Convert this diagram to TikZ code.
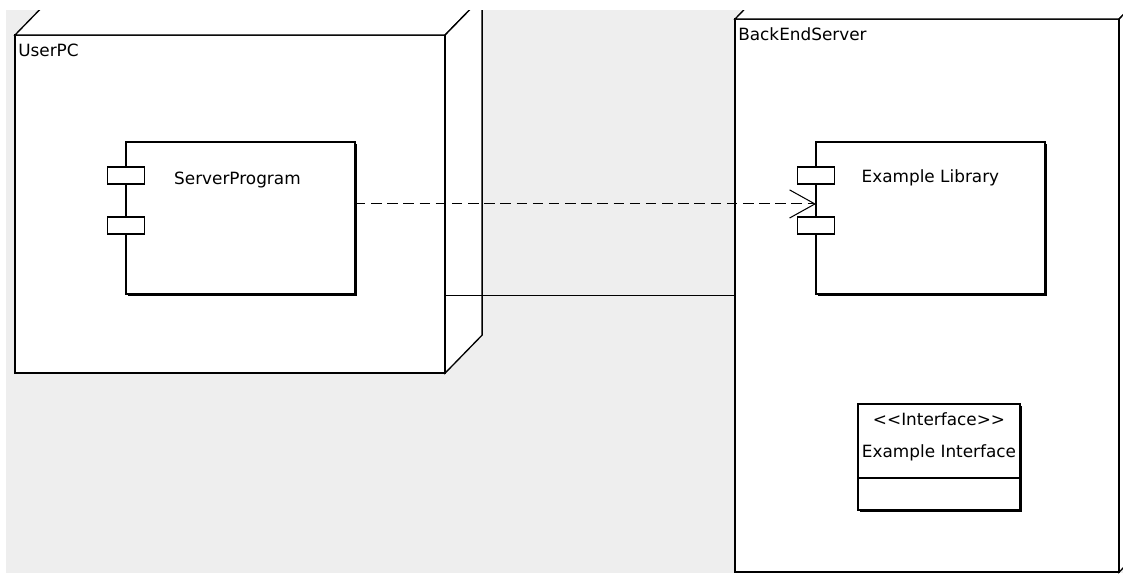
\documentclass[tikz,border=0pt]{standalone}
\usepackage{fontspec}
\setmainfont{DejaVu Sans}
\usepackage{xcolor}
\usetikzlibrary{arrows.meta, positioning, calc, shadows}
\definecolor{canvas}{HTML}{EEEEEE}

\begin{document}
\begin{tikzpicture}[x=0.025cm, y=-0.025cm, font=\fontsize{12}{14}\selectfont,
  box/.style={draw, line width=0.95pt, fill=white, inner sep=0pt, outer sep=0pt, anchor=north west},
  face/.style={draw, line width=0.95pt, fill=white},
  comp/.style={box, minimum width=5.72cm, minimum height=3.8cm,
    drop shadow={shadow xshift=1.5pt, shadow yshift=-1.5pt, fill=black, opacity=1}},
  port/.style={draw, line width=0.95pt, fill=white, inner sep=0pt, outer sep=0pt,
    minimum width=0.925cm, minimum height=0.425cm},
  dep/.style={dash pattern=on 7.5pt off 4pt, line width=0.75pt,
    -{Straight Barb[length=18pt, width=20pt]}},
  lbl/.style={inner sep=0pt, anchor=north west}]
\useasboundingbox (0,0) rectangle (1123,574);
% Canvas
\fill[canvas] (6,10) rectangle (1123,573);
\begin{scope}
\clip (6,10) rectangle (1123,573);
% Nodes (deployment boxes)
\node[box, minimum width=9.6cm, minimum height=13.825cm] (backend) at (735,19) {};
\draw[face] (backend.north west) -- ++(37,-38) -- ($(backend.north east)+(37,-38)$) -- (backend.north east) -- cycle;
\draw[face] (backend.north east) -- ++(37,-38) -- ($(backend.south east)+(37,-38)$) -- (backend.south east) -- cycle;
\node[lbl] (backendlbl) at ($(backend.north west)+(3,8)$) {BackEndServer};
\node[box, minimum width=10.75cm, minimum height=8.45cm] (userpc) at (15,35) {};
\draw[face] (userpc.north west) -- ++(37,-38) -- ($(userpc.north east)+(37,-38)$) -- (userpc.north east) -- cycle;
\draw[face] (userpc.north east) -- ++(37,-38) -- ($(userpc.south east)+(37,-38)$) -- (userpc.south east) -- cycle;
\node[lbl] (userpclbl) at ($(userpc.north west)+(3,9)$) {UserPC};
% Link between nodes
\draw[line width=0.95pt] (userpc.east |- backend.west) -- (backend.west);
% Components
\node[comp] (prog) at (126,142) {};
\node[comp] (lib) at (816,142) {};
\foreach \c in {prog, lib} {
    \foreach \p/\dy in {a/33.5, b/83.5} {
        \node[port] (\c\p) at ($(\c.north west)+(0,\dy)$) {};
    }
}
\node (progname) at ($(prog.north)+(-3,38)$) {ServerProgram};
\node (libname) at ($(lib.north)+(0,36)$) {Example Library};
% Interface
\node[box, minimum width=4.05cm, minimum height=2.65cm,
  drop shadow={shadow xshift=1.5pt, shadow yshift=-1.5pt, fill=black, opacity=1}] (iface) at (858,404) {};
\draw[line width=0.95pt] ($(iface.north west)+(0,74)$) -- ($(iface.north east)+(0,74)$);
\node (ifstereo) at ($(iface.north)+(0,15)$) {<{}<Interface>{}>};
\node (ifname) at ($(iface.north)+(0,49)$) {Example Interface};
% Dependency
\draw[dep] ([yshift=10pt]prog.east) -- ([yshift=10pt]lib.west);
\end{scope}
\end{tikzpicture}
\end{document}
